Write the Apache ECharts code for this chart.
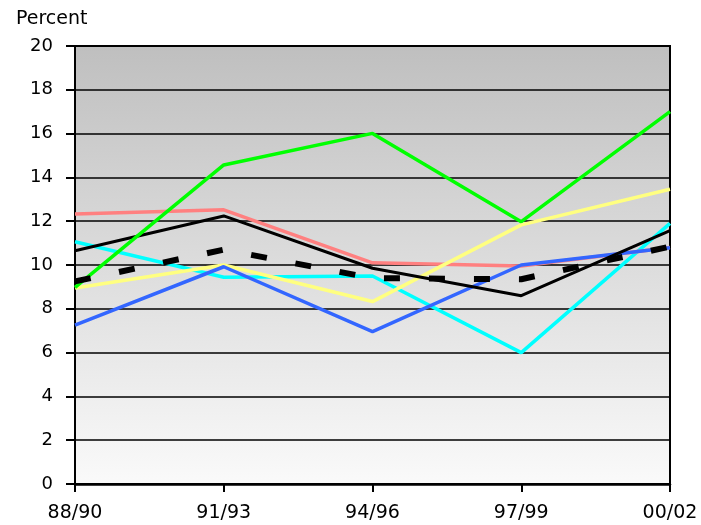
<!DOCTYPE html>
<html>
<head>
<meta charset="utf-8">
<script src="https://cdn.jsdelivr.net/npm/echarts@6/dist/echarts.min.js"></script>
<style>
  html, body { margin: 0; padding: 0; background: #fff; }
  #chart { width: 701px; height: 525px; }
</style>
</head>
<body>
<div id="chart"></div>
<script>
// categories and values
const periods = ['88/90', '91/93', '94/96', '97/99', '00/02'];
const pinkVals = [12.33, 12.52, 10.1, 9.95, 10.8];
const cyanVals = [11.06, 9.44, 9.5, 6.0, 11.9];
const yellowVals = [8.95, 10.0, 8.33, 11.83, 13.46];
const blueVals = [7.26, 9.92, 6.96, 10.0, 10.79];
const blackVals = [10.65, 12.24, 9.85, 8.6, 11.57];
const greenVals = [8.98, 14.57, 16.01, 11.98, 17.0];
const dashVals = [9.25, 10.7, 9.4, 9.35, 10.84];

let chart = echarts.init(document.getElementById('chart'));

function line(name, data, color, width, type) {
  return {
    name: name,
    type: 'line',
    data: data,
    symbol: 'none',
    lineStyle: { color: color, width: width, type: type || 'solid' },
    emphasis: { disabled: true }
  };
}

let option = {
  animation: false,
  title: {
    text: 'Percent',
    left: 11,
    top: 5,
    textStyle: { fontFamily: 'DejaVu Sans', fontSize: 19, fontWeight: 'normal', color: '#000' }
  },
  grid: {
    left: 75,
    right: 31,
    top: 46,
    bottom: 41,
    show: true,
    borderColor: '#000',
    borderWidth: 2,
    backgroundColor: new echarts.graphic.LinearGradient(0, 0, 0, 1, [
      { offset: 0, color: '#bfbfbf' },
      { offset: 1, color: '#fafafa' }
    ])
  },
  xAxis: {
    type: 'category',
    data: periods,
    boundaryGap: false,
    axisLine: { lineStyle: { color: '#000', width: 2.5 } },
    axisTick: { show: true, length: 8, lineStyle: { color: '#000', width: 2 } },
    axisLabel: { color: '#000', fontSize: 19, fontFamily: 'DejaVu Sans', margin: 20 },
    splitLine: { show: false }
  },
  yAxis: {
    type: 'value',
    min: 0,
    max: 20,
    interval: 2,
    axisLine: { show: true, lineStyle: { color: '#000', width: 2 } },
    axisTick: { show: true, length: 9, lineStyle: { color: '#000', width: 2 } },
    axisLabel: { color: '#000', fontSize: 18, fontFamily: 'DejaVu Sans', margin: 22 },
    splitLine: { show: true, lineStyle: { color: '#000', width: 1.5 } }
  },
  series: [
    line('cyan', cyanVals, '#00ffff', 3.5),
    line('pink', pinkVals, '#ff8080', 3.5),
    line('yellow', yellowVals, '#ffff80', 3.5),
    line('blue', blueVals, '#3366ff', 3.5),
    line('black', blackVals, '#000000', 3),
    line('green', greenVals, '#00ff00', 3.5),
    line('dashed', dashVals, '#000000', 6, [16, 29])
  ]
};

option && chart.setOption(option);
</script>
</body>
</html>
